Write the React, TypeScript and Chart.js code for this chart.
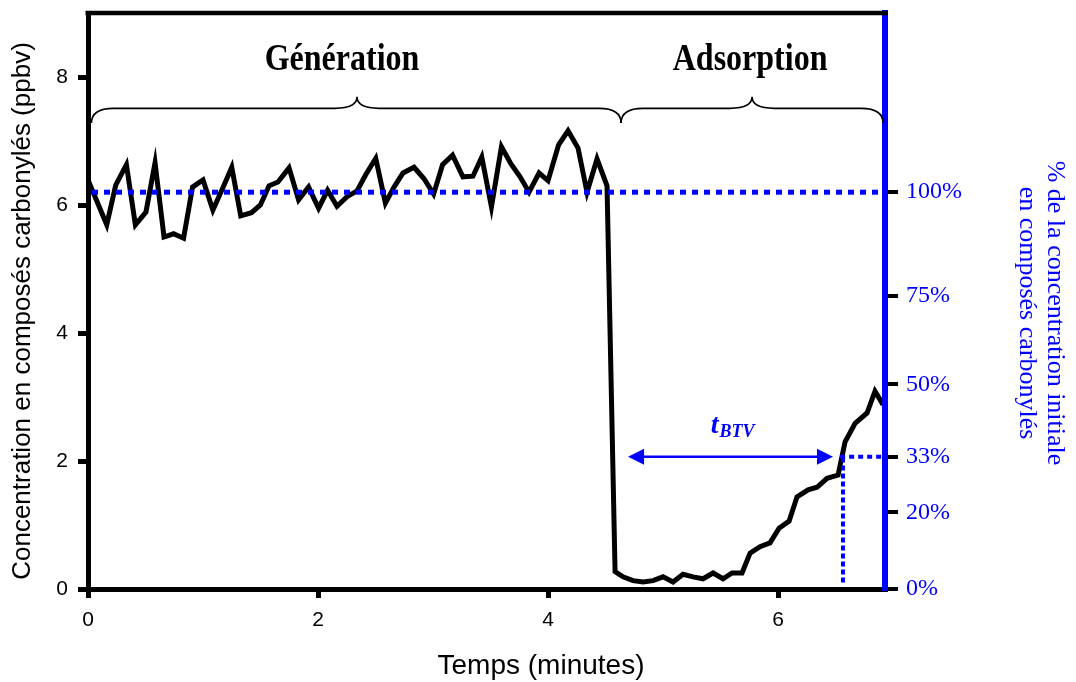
import React, { useEffect, useRef } from 'react';
import { Chart, registerables } from 'chart.js';

Chart.register(...registerables);

// ---- data ----
const timeMin = [
  0, 0.163, 0.241, 0.334, 0.412, 0.504, 0.583, 0.661, 0.744, 0.831,
  0.909, 1.0, 1.086, 1.173, 1.25, 1.328, 1.421, 1.499, 1.574, 1.652,
  1.748, 1.831, 1.918, 2.005, 2.083, 2.165, 2.252, 2.339, 2.417, 2.502,
  2.586, 2.661, 2.739, 2.835, 2.922, 3.005, 3.083, 3.17, 3.26, 3.347,
  3.424, 3.508, 3.595, 3.678, 3.757, 3.835, 3.922, 4.0, 4.092, 4.174,
  4.261, 4.339, 4.426, 4.513,
  4.583, 4.652, 4.739, 4.826, 4.913, 5.0, 5.087, 5.174, 5.261, 5.348,
  5.435, 5.522, 5.6, 5.687, 5.757, 5.843, 5.93, 6.009, 6.096, 6.165,
  6.261, 6.339, 6.426, 6.522, 6.583, 6.67, 6.774, 6.843, 6.913,
];
const concPpbv = [
  6.39, 5.69, 6.31, 6.63, 5.69, 5.89, 6.66, 5.5, 5.55, 5.48,
  6.28, 6.39, 5.92, 6.27, 6.59, 5.83, 5.88, 6.0, 6.3, 6.36,
  6.58, 6.08, 6.28, 5.95, 6.23, 5.98, 6.13, 6.22, 6.48, 6.73,
  6.03, 6.28, 6.5, 6.59, 6.41, 6.17, 6.63, 6.78, 6.44, 6.45,
  6.75, 5.97, 6.91, 6.64, 6.44, 6.2, 6.5, 6.38, 6.94, 7.16,
  6.89, 6.2, 6.72, 6.3,
  0.27, 0.19, 0.13, 0.11, 0.13, 0.19, 0.11, 0.23, 0.19, 0.16,
  0.25, 0.16, 0.25, 0.25, 0.56, 0.66, 0.72, 0.95, 1.06, 1.44,
  1.55, 1.59, 1.73, 1.78, 2.3, 2.59, 2.75, 3.09, 2.88,
];

const xMin = 0;
const xMax = 6.93;
const yMin = 0;
const yMax = 9;
const bottomTicks = [0, 2, 4, 6];
const leftTicks = [0, 2, 4, 6, 8];
const rightTickValues = [0, 1.198, 2.067, 3.198, 4.583, 6.2];
const rightTickLabels = ['0%', '20%', '33%', '50%', '75%', '100%'];

const initialLevel = 6.2; // 100 %
const breakthroughLevel = 2.067; // 33 %
const breakthroughTime = 6.565;
const arrowStart = 4.696;
const arrowEnd = 6.478;
const btvLabelX = 5.6;
const btvLabelY = 2.44;

const phaseNames = ['Génération', 'Adsorption'];
const phaseLabelX = [2.209, 5.757];
const phaseLabelY = 8.11;
const braceStart = [0.03, 4.635];
const braceEnd = [4.635, 6.913];
const braceTip = [2.339, 5.774];
const braceEndY = 7.28;
const braceLineY = 7.51;
const braceTipY = 7.69;

const xTitle = 'Temps (minutes)';
const yTitle = 'Concentration en composés carbonylés (ppbv)';
const y1Title = ['% de la concentration initiale', 'en composés carbonylés'];

const BLUE = '#0000ff';
const SANS = '"Liberation Sans", Arial, sans-serif';
const SERIF = '"Liberation Serif", "Times New Roman", serif';

const annotations = {
  id: 'annotations',
  afterDraw(chart: any) {
    const { ctx, chartArea, scales } = chart;
    const x = scales.x;
    const y = scales.y;
    ctx.save();

    // top frame line
    ctx.strokeStyle = '#000';
    ctx.lineWidth = 4.5;
    ctx.beginPath();
    ctx.moveTo(chartArea.left - 2.5, chartArea.top);
    ctx.lineTo(chartArea.right + 3, chartArea.top);
    ctx.stroke();

    // braces
    ctx.lineWidth = 1.6;
    ctx.strokeStyle = '#000';
    const r = 22;
    for (let i = 0; i < braceStart.length; i++) {
      const x1 = x.getPixelForValue(braceStart[i]);
      const x2 = x.getPixelForValue(braceEnd[i]);
      const xm = x.getPixelForValue(braceTip[i]);
      const ye = y.getPixelForValue(braceEndY);
      const yl = y.getPixelForValue(braceLineY);
      const yt = y.getPixelForValue(braceTipY);
      ctx.beginPath();
      ctx.moveTo(x1, ye);
      ctx.quadraticCurveTo(x1, yl, x1 + r, yl);
      ctx.lineTo(xm - r, yl);
      ctx.quadraticCurveTo(xm, yl, xm, yt);
      ctx.quadraticCurveTo(xm, yl, xm + r, yl);
      ctx.lineTo(x2 - r, yl);
      ctx.quadraticCurveTo(x2, yl, x2, ye);
      ctx.stroke();
    }

    // phase labels (tall condensed bold serif)
    ctx.fillStyle = '#000';
    ctx.textAlign = 'center';
    ctx.textBaseline = 'alphabetic';
    ctx.font = `bold 32px ${SERIF}`;
    for (let i = 0; i < phaseNames.length; i++) {
      const px = x.getPixelForValue(phaseLabelX[i]);
      const py = y.getPixelForValue(phaseLabelY);
      ctx.save();
      ctx.translate(px, py);
      ctx.scale(1, 1.2);
      ctx.fillText(phaseNames[i], 0, 0);
      ctx.restore();
    }

    // breakthrough arrow
    const ay = y.getPixelForValue(breakthroughLevel);
    const ax1 = x.getPixelForValue(arrowStart);
    const ax2 = x.getPixelForValue(arrowEnd);
    ctx.strokeStyle = BLUE;
    ctx.fillStyle = BLUE;
    ctx.lineWidth = 2.5;
    ctx.beginPath();
    ctx.moveTo(ax1 + 10, ay);
    ctx.lineTo(ax2 - 10, ay);
    ctx.stroke();
    ctx.beginPath();
    ctx.moveTo(ax1, ay);
    ctx.lineTo(ax1 + 16, ay - 8);
    ctx.lineTo(ax1 + 16, ay + 8);
    ctx.closePath();
    ctx.fill();
    ctx.beginPath();
    ctx.moveTo(ax2, ay);
    ctx.lineTo(ax2 - 16, ay - 8);
    ctx.lineTo(ax2 - 16, ay + 8);
    ctx.closePath();
    ctx.fill();

    // t_BTV label
    const bx = x.getPixelForValue(btvLabelX);
    const by = y.getPixelForValue(btvLabelY);
    ctx.textAlign = 'left';
    ctx.font = `bold italic 28px ${SERIF}`;
    const tw = ctx.measureText('t').width;
    ctx.font = `bold italic 18px ${SERIF}`;
    const sw = ctx.measureText('BTV').width;
    const start = bx - (tw + sw) / 2;
    ctx.font = `bold italic 28px ${SERIF}`;
    ctx.fillText('t', start, by);
    ctx.font = `bold italic 18px ${SERIF}`;
    ctx.fillText('BTV', start + tw + 1, by + 4);

    // axis titles
    ctx.fillStyle = '#000';
    ctx.textAlign = 'center';
    ctx.textBaseline = 'middle';
    ctx.font = `28px ${SANS}`;
    ctx.fillText(xTitle, 541, 666);

    ctx.save();
    ctx.translate(23, 311);
    ctx.rotate(-Math.PI / 2);
    ctx.font = `26px ${SANS}`;
    ctx.fillText(yTitle, 0, 0);
    ctx.restore();

    ctx.fillStyle = BLUE;
    ctx.font = `26px ${SERIF}`;
    const lineXs = [1055, 1027];
    for (let i = 0; i < y1Title.length; i++) {
      ctx.save();
      ctx.translate(lineXs[i], 313);
      ctx.rotate(Math.PI / 2);
      ctx.fillText(y1Title[i], 0, 0);
      ctx.restore();
    }

    ctx.restore();
  },
};

export default function App() {
  const canvasRef = useRef<HTMLCanvasElement | null>(null);

  useEffect(() => {
    const canvas = canvasRef.current;
    if (!canvas) return;
    const mainData = timeMin.map((t, i) => ({ x: t, y: concPpbv[i] }));

    const chart = new Chart(canvas, {
      type: 'line',
      data: {
        datasets: [
          {
            label: 'initial',
            data: [
              { x: xMin, y: initialLevel },
              { x: xMax, y: initialLevel },
            ],
            borderColor: BLUE,
            borderWidth: 5,
            borderDash: [6, 6],
            borderDashOffset: 8,
            pointRadius: 0,
            order: 0,
          },
          {
            label: 'breakthrough-v',
            data: [
              { x: breakthroughTime, y: 0.1 },
              { x: breakthroughTime, y: breakthroughLevel },
            ],
            borderColor: BLUE,
            borderWidth: 4,
            borderDash: [5, 3],
            pointRadius: 0,
            order: 0,
          },
          {
            label: 'breakthrough-h',
            data: [
              { x: 6.54, y: breakthroughLevel },
              { x: xMax, y: breakthroughLevel },
            ],
            borderColor: BLUE,
            borderWidth: 4,
            borderDash: [5, 4],
            pointRadius: 0,
            order: 0,
          },
          {
            label: 'concentration',
            data: mainData,
            borderColor: '#000',
            borderWidth: 5,
            borderJoinStyle: 'miter',
            pointRadius: 0,
            tension: 0,
            order: 1,
          },
        ],
      },
      options: {
        animation: false,
        responsive: false,
        maintainAspectRatio: false,
        layout: { padding: { top: 13, left: 0, right: 0, bottom: 0 } },
        plugins: {
          legend: { display: false },
          tooltip: { enabled: false },
          title: { display: false },
        },
        scales: {
          x: {
            type: 'linear',
            position: 'bottom',
            min: xMin,
            max: xMax,
            afterBuildTicks: (s: any) => {
              s.ticks = bottomTicks.map((v) => ({ value: v }));
            },
            afterFit: (s: any) => {
              s.height = 93;
              s.paddingLeft = 0;
              s.paddingRight = 0;
            },
            ticks: {
              font: { family: SANS, size: 21 },
              color: '#000',
              padding: 10,
              maxRotation: 0,
              callback: (v: any) => String(v),
            },
            grid: {
              drawOnChartArea: false,
              drawTicks: true,
              tickLength: 9,
              color: '#000',
              lineWidth: 5,
            },
            border: { display: true, color: '#000', width: 5, z: 1 },
          },
          y: {
            type: 'linear',
            position: 'left',
            min: yMin,
            max: yMax,
            afterBuildTicks: (s: any) => {
              s.ticks = leftTicks.map((v) => ({ value: v }));
            },
            afterFit: (s: any) => {
              s.width = 88;
              s.paddingTop = 0;
              s.paddingBottom = 0;
            },
            ticks: {
              font: { family: SANS, size: 21 },
              color: '#000',
              padding: 10,
              callback: (v: any) => String(v),
            },
            grid: {
              drawOnChartArea: false,
              drawTicks: true,
              tickLength: 10,
              color: '#000',
              lineWidth: 5,
            },
            border: { display: true, color: '#000', width: 5, z: 1 },
          },
          y1: {
            type: 'linear',
            position: 'right',
            min: yMin,
            max: yMax,
            afterBuildTicks: (s: any) => {
              s.ticks = rightTickValues.map((v) => ({ value: v }));
            },
            afterFit: (s: any) => {
              s.width = 191;
              s.paddingTop = 0;
              s.paddingBottom = 0;
            },
            ticks: {
              font: { family: SERIF, size: 24 },
              color: BLUE,
              padding: 8,
              callback: (v: any) => {
                const idx = rightTickValues.findIndex((rv) => Math.abs(rv - v) < 1e-6);
                return idx >= 0 ? rightTickLabels[idx] : '';
              },
            },
            grid: {
              drawOnChartArea: false,
              drawTicks: true,
              tickLength: 13,
              color: '#000',
              lineWidth: 4,
            },
            border: { display: true, color: BLUE, width: 6, z: 1 },
          },
        },
      },
      plugins: [annotations],
    });

    return () => chart.destroy();
  }, []);

  return (
    <div style={{ position: 'fixed', left: 0, top: 0, width: 1076, height: 682, background: '#fff' }}>
      <canvas ref={canvasRef} width={1076} height={682} style={{ display: 'block', width: 1076, height: 682 }} />
    </div>
  );
}
